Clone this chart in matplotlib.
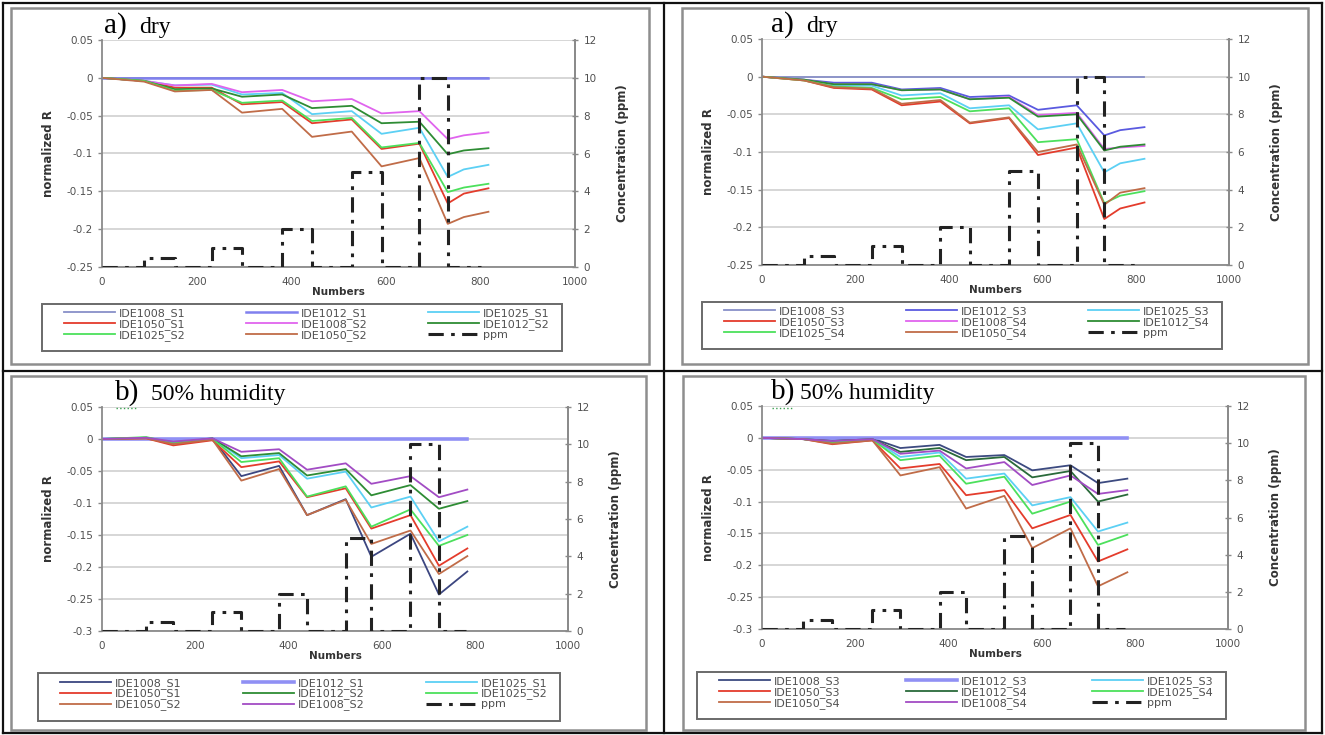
"""Normalized resistance of the IDE sensors under stepped ppm exposure, dry vs 50% humidity."""

import matplotlib
matplotlib.use("Agg")
import matplotlib.pyplot as plt
from matplotlib.lines import Line2D
from matplotlib.patches import Rectangle
from matplotlib.ticker import FuncFormatter, MultipleLocator

W, H = 1325, 735

# ---- a) dry, sensors S1/S2 ----
dry12_x = [0, 89, 154, 232, 296, 381, 444, 528, 591, 671, 731, 765, 817]
dry12 = {
    "IDE1008_S1": [0, 0, 0, 0, 0, 0, 0, 0, 0, 0, 0, 0, 0],
    "IDE1012_S1": [0, 0, 0, 0, 0, 0, 0, 0, 0, 0, 0, 0, 0],
    "IDE1025_S1": [0, -0.004, -0.010, -0.009, -0.022, -0.020, -0.048, -0.044, -0.074, -0.066, -0.131, -0.121, -0.115],
    "IDE1050_S1": [0, -0.004, -0.013, -0.013, -0.035, -0.032, -0.060, -0.055, -0.094, -0.087, -0.166, -0.153, -0.146],
    "IDE1008_S2": [0, -0.004, -0.010, -0.008, -0.019, -0.016, -0.031, -0.028, -0.047, -0.044, -0.081, -0.076, -0.072],
    "IDE1012_S2": [0, -0.004, -0.015, -0.014, -0.025, -0.022, -0.040, -0.037, -0.060, -0.058, -0.101, -0.096, -0.093],
    "IDE1025_S2": [0, -0.004, -0.017, -0.016, -0.033, -0.030, -0.057, -0.053, -0.092, -0.086, -0.151, -0.145, -0.140],
    "IDE1050_S2": [0, -0.005, -0.018, -0.016, -0.046, -0.041, -0.078, -0.071, -0.117, -0.106, -0.193, -0.184, -0.177],
}
dry12_ppm_x = [0, 89, 154, 232, 296, 381, 444, 528, 591, 671, 731, 802]
dry12_ppm = [0, 0.5, 0, 1, 0, 2, 0, 5, 0, 10, 0, 0]

# ---- a) dry, sensors S3/S4 ----
dry34_x = [0, 90, 154, 235, 299, 382, 445, 529, 591, 674, 733, 767, 819]
dry34 = {
    "IDE1008_S3": [0, 0, 0, 0, 0, 0, 0, 0, 0, 0, 0, 0, 0],
    "IDE1012_S3": [0, -0.004, -0.008, -0.008, -0.017, -0.015, -0.027, -0.025, -0.044, -0.038, -0.078, -0.071, -0.067],
    "IDE1025_S3": [0, -0.004, -0.012, -0.012, -0.025, -0.022, -0.042, -0.038, -0.070, -0.062, -0.127, -0.115, -0.109],
    "IDE1050_S3": [0, -0.005, -0.015, -0.017, -0.038, -0.033, -0.062, -0.055, -0.104, -0.094, -0.189, -0.175, -0.167],
    "IDE1008_S4": [0, -0.004, -0.010, -0.010, -0.018, -0.017, -0.030, -0.027, -0.051, -0.048, -0.096, -0.094, -0.092],
    "IDE1012_S4": [0, -0.004, -0.010, -0.010, -0.018, -0.017, -0.030, -0.028, -0.053, -0.050, -0.098, -0.093, -0.090],
    "IDE1025_S4": [0, -0.005, -0.013, -0.015, -0.030, -0.027, -0.046, -0.042, -0.087, -0.083, -0.168, -0.158, -0.152],
    "IDE1050_S4": [0, -0.005, -0.014, -0.016, -0.036, -0.031, -0.061, -0.054, -0.100, -0.090, -0.170, -0.154, -0.148],
}
dry34_ppm_x = [0, 90, 154, 235, 299, 382, 445, 529, 591, 674, 733, 805]
dry34_ppm = [0, 0.5, 0, 1, 0, 2, 0, 5, 0, 10, 0, 0]

# ---- b) 50% humidity, sensors S1/S2 ----
hum12_x = [0, 95, 153, 237, 299, 380, 440, 523, 578, 662, 723, 784]
hum12 = {
    "IDE1008_S1": [0, 0.001, -0.004, 0.001, -0.058, -0.042, -0.119, -0.094, -0.184, -0.148, -0.243, -0.207],
    "IDE1012_S1": [0, 0, 0, 0, 0, 0, 0, 0, 0, 0, 0, 0],
    "IDE1025_S1": [0, 0.002, -0.005, 0.001, -0.030, -0.025, -0.062, -0.051, -0.107, -0.090, -0.160, -0.137],
    "IDE1050_S1": [0, 0.001, -0.010, -0.002, -0.044, -0.035, -0.091, -0.077, -0.140, -0.119, -0.198, -0.171],
    "IDE1012_S2": [0, 0.002, -0.006, 0.001, -0.027, -0.022, -0.057, -0.047, -0.088, -0.072, -0.109, -0.097],
    "IDE1025_S2": [0, 0.003, -0.006, 0.000, -0.036, -0.030, -0.090, -0.074, -0.137, -0.110, -0.167, -0.150],
    "IDE1050_S2": [0, 0.001, -0.008, -0.001, -0.065, -0.047, -0.119, -0.095, -0.164, -0.143, -0.211, -0.183],
    "IDE1008_S2": [0, 0.002, -0.004, 0.001, -0.020, -0.016, -0.048, -0.038, -0.070, -0.058, -0.091, -0.079],
}
hum12_ppm_x = [0, 95, 153, 237, 299, 380, 440, 523, 578, 662, 723, 782]
hum12_ppm = [0, 0.5, 0, 1, 0, 2, 0, 5, 0, 10, 0, 0]

# ---- b) 50% humidity, sensors S3/S4 ----
hum34_x = [0, 89, 151, 237, 297, 381, 438, 520, 580, 662, 721, 784]
hum34 = {
    "IDE1008_S3": [0, -0.002, -0.004, -0.001, -0.016, -0.011, -0.030, -0.027, -0.051, -0.043, -0.071, -0.064],
    "IDE1012_S3": [0, 0, 0, 0, 0, 0, 0, 0, 0, 0, 0, 0],
    "IDE1025_S3": [0, -0.002, -0.006, -0.002, -0.030, -0.023, -0.064, -0.056, -0.106, -0.093, -0.147, -0.133],
    "IDE1050_S3": [0, -0.002, -0.010, -0.004, -0.048, -0.041, -0.090, -0.082, -0.142, -0.121, -0.194, -0.175],
    "IDE1012_S4": [0, -0.002, -0.005, -0.002, -0.022, -0.016, -0.035, -0.030, -0.062, -0.052, -0.100, -0.089],
    "IDE1025_S4": [0, -0.002, -0.007, -0.003, -0.035, -0.028, -0.072, -0.061, -0.119, -0.100, -0.168, -0.152],
    "IDE1050_S4": [0, -0.002, -0.009, -0.004, -0.059, -0.046, -0.111, -0.091, -0.173, -0.142, -0.233, -0.211],
    "IDE1008_S4": [0, -0.002, -0.005, -0.002, -0.025, -0.020, -0.048, -0.038, -0.074, -0.059, -0.088, -0.082],
}
hum34_ppm_x = [0, 89, 151, 237, 297, 381, 438, 520, 580, 662, 721, 780]
hum34_ppm = [0, 0.5, 0, 1, 0, 2, 0, 5, 0, 10, 0, 0]

# line colour / width per sensor name
STYLE = {
    "IDE1008_S1": ("#8890c8", 1.3), "IDE1012_S1": ("#8080ee", 1.8),
    "IDE1025_S1": ("#5cd0f4", 1.3), "IDE1050_S1": ("#e43c2c", 1.3),
    "IDE1008_S2": ("#e064ee", 1.3), "IDE1012_S2": ("#2e8c34", 1.3),
    "IDE1025_S2": ("#4ce05c", 1.3), "IDE1050_S2": ("#c06c48", 1.3),
    "IDE1008_S3": ("#8890c8", 1.3), "IDE1012_S3": ("#5a5ae0", 1.3),
    "IDE1025_S3": ("#5cd0f4", 1.3), "IDE1050_S3": ("#e43c2c", 1.3),
    "IDE1008_S4": ("#e064ee", 1.3), "IDE1012_S4": ("#2e8c34", 1.3),
    "IDE1025_S4": ("#4ce05c", 1.3), "IDE1050_S4": ("#c06c48", 1.3),
}
HUM_STYLE = {
    "IDE1008_S1": ("#3c4680", 1.3), "IDE1012_S1": ("#9090f4", 2.6),
    "IDE1008_S2": ("#a24cc4", 1.3),
    "IDE1008_S3": ("#3c4a80", 1.3), "IDE1012_S3": ("#9090f4", 2.6),
    "IDE1008_S4": ("#a24cc4", 1.3), "IDE1012_S4": ("#2a6a3a", 1.3),
}

TXT = "#505050"
PPM_DASH = (5, 2.4, 1.2, 2.4)


def fig_box(l, t, r, b):
    return [l / W, 1 - b / H, (r - l) / W, (b - t) / H]


def fig_rect(l, t, r, b, **kw):
    return Rectangle((l / W, 1 - b / H), (r - l) / W, (b - t) / H, fill=False, **kw)


def fmt_r(v, _):
    return f"{round(v, 3):g}"


def draw_panel(fig, axes_px, frame_px, legend_px, title, title_x, title_gap,
               x, series, styles, ppm_x, ppm_y, ylo):
    # chart area border
    fig.add_artist(fig_rect(*frame_px, transform=fig.transFigure,
                            edgecolor="#8e8e8e", lw=1.8))

    ax = fig.add_axes(fig_box(*axes_px))
    handles = []
    for name, vals in series.items():
        color, lw = styles.get(name, STYLE[name])
        h, = ax.plot(x, vals, color=color, lw=lw, label=name)
        handles.append(h)
    ax.set_xlim(0, 1000)
    ax.set_ylim(ylo, 0.05)
    ax.xaxis.set_major_locator(MultipleLocator(200))
    ax.yaxis.set_major_locator(MultipleLocator(0.05))
    ax.yaxis.set_major_formatter(FuncFormatter(fmt_r))
    ax.grid(axis="y", color="#cfcfcf", lw=1.2)
    ax.set_axisbelow(True)
    ax.spines["top"].set_visible(False)
    for side in ("left", "bottom", "right"):
        ax.spines[side].set_color("#8a8a8a")
        ax.spines[side].set_linewidth(1.3)
    ax.tick_params(axis="both", colors="#8a8a8a", labelcolor=TXT, labelsize=7.5,
                   length=3, width=1)
    ax.tick_params(axis="x", length=0, pad=7)
    ax.set_ylabel("normalized R", fontsize=8.5, fontweight="bold", color="#333333",
                  labelpad=8)
    ax.set_xlabel("Numbers", fontsize=7.5, fontweight="bold", color="#333333",
                  labelpad=0)

    ax2 = ax.twinx()
    h, = ax2.plot(ppm_x, ppm_y, drawstyle="steps-post", color="#222222", lw=2.2,
                  dashes=PPM_DASH, label="ppm")
    handles.append(h)
    ax2.set_ylim(0, 12)
    ax2.yaxis.set_major_locator(MultipleLocator(2))
    for side in ("top", "left", "bottom"):
        ax2.spines[side].set_visible(False)
    ax2.spines["right"].set_color("#8a8a8a")
    ax2.spines["right"].set_linewidth(1.3)
    ax2.tick_params(axis="y", colors="#8a8a8a", labelcolor=TXT, labelsize=7.5,
                    length=5, width=1, direction="inout")
    ax2.set_ylabel("Concentration (ppm)", fontsize=8.5, fontweight="bold",
                   color="#333333", labelpad=14)

    # legend laid out row by row, three columns, inside its own box
    l, t, r, b = legend_px
    fig.add_artist(fig_rect(l, t, r, b, transform=fig.transFigure,
                            edgecolor="#6a6a6a", lw=1.4, zorder=9))
    order = [0, 3, 6, 1, 4, 7, 2, 5, 8]
    mid = (t + b) / 2 - 3
    inner = fig_box(l + 22, mid - 16, r - 12, mid + 16)
    leg = ax.legend([handles[i] for i in order], [handles[i].get_label() for i in order],
                    loc="center", bbox_to_anchor=inner, bbox_transform=fig.transFigure,
                    mode="expand", ncol=3, fontsize=8, handlelength=4.6,
                    handletextpad=0.35, labelspacing=0.0, borderpad=0,
                    borderaxespad=0, frameon=False)
    for txt in leg.get_texts():
        txt.set_color(TXT)
    leg.set_zorder(10)

    # panel title, Times-like
    ty = axes_px[1] - 7
    fig.text(title_x / W, 1 - ty / H, title[0], family="Liberation Serif", fontsize=21,
             va="baseline", ha="left")
    fig.text((title_x + title_gap) / W, 1 - ty / H, title[1], family="Liberation Serif",
             fontsize=17, va="baseline", ha="left")
    return ax


fig = plt.figure(figsize=(W / 100, H / 100), dpi=100)

draw_panel(fig, (102, 40, 575, 267), (11, 8, 649, 364), (42, 304, 562, 351),
           ("a)", "dry"), 104, 35, dry12_x, dry12, STYLE, dry12_ppm_x, dry12_ppm, -0.25)
draw_panel(fig, (762, 39, 1229, 265), (682, 8, 1308, 364), (702, 302, 1222, 349),
           ("a)", "dry"), 771, 35, dry34_x, dry34, STYLE, dry34_ppm_x, dry34_ppm, -0.25)
draw_panel(fig, (102, 407, 568, 631), (11, 376, 646, 730), (38, 673, 560, 721),
           ("b)", "50% humidity"), 115, 36, hum12_x, hum12, HUM_STYLE, hum12_ppm_x, hum12_ppm, -0.3)
draw_panel(fig, (762, 406, 1228, 629), (683, 376, 1305, 730), (697, 672, 1226, 719),
           ("b)", "50% humidity"), 771, 29, hum34_x, hum34, HUM_STYLE, hum34_ppm_x, hum34_ppm, -0.3)

# green dotted marks under the "b)" labels
for x0 in (116, 772):
    fig.add_artist(Line2D([x0 / W, (x0 + 22) / W], [1 - 408 / H, 1 - 408 / H],
                          transform=fig.transFigure, color="#3aa050", lw=1, ls=":"))

# black page rules around and between the panels
rules = [
    ([3, 1322], [3, 3]), ([3, 1322], [733, 733]),
    ([3, 3], [3, 733]), ([1322, 1322], [3, 733]),
    ([664, 664], [3, 733]), ([3, 1322], [371, 371]),
]
for xs, ys in rules:
    fig.add_artist(Line2D([v / W for v in xs], [1 - v / H for v in ys],
                          transform=fig.transFigure, color="#111111", lw=1.6))

fig.savefig("out.png", dpi=100)
